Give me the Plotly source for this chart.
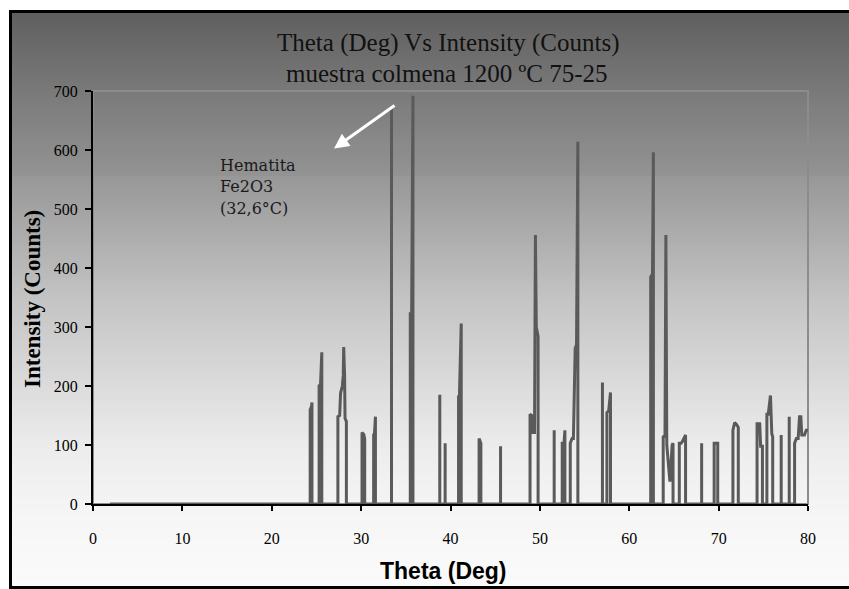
import plotly.graph_objects as go

# ---------------- data ----------------
theta = [
    1.9,
    24.3, 24.3, 24.45, 24.5, 24.5,
    25.3, 25.3, 25.45, 25.6, 25.6,
    27.4, 27.4, 27.6, 27.7, 27.9, 28.0, 28.05, 28.15, 28.2, 28.35, 28.35,
    30.1, 30.1, 30.3, 30.4, 30.4,
    31.4, 31.4, 31.5, 31.6, 31.6,
    33.4, 33.4, 33.4,
    35.5, 35.5, 35.65, 35.8, 35.8,
    38.8, 38.8, 38.8,
    39.4, 39.4, 39.4,
    40.9, 40.9, 41.0, 41.2, 41.2,
    43.2, 43.2, 43.4, 43.4,
    45.6, 45.6, 45.6,
    48.9, 48.9, 49.1, 49.2, 49.4, 49.5, 49.6, 49.8, 49.8,
    51.6, 51.6, 51.6,
    52.5, 52.5, 52.7, 52.8, 52.8,
    53.4, 53.4, 53.6, 53.75, 53.95, 54.1, 54.25, 54.25,
    57.0, 57.0, 57.0,
    57.5, 57.5, 57.7, 57.9, 57.9,
    62.4, 62.4, 62.6, 62.7, 62.7,
    63.8, 63.8, 64.0, 64.1, 64.2, 64.55, 64.8, 64.9, 64.9,
    65.6, 65.6, 65.8, 65.95, 66.3, 66.3,
    68.1, 68.1, 68.1,
    69.5, 69.5, 69.9, 69.9,
    71.6, 71.6, 71.8, 72.0, 72.2, 72.2,
    74.3, 74.3, 74.6, 74.7, 74.9, 74.9,
    75.4, 75.4, 75.55, 75.8, 75.95, 76.05, 76.05,
    77.0, 77.0, 77.0,
    77.9, 77.9, 77.9,
    78.5, 78.5, 78.7, 78.9, 79.05, 79.2, 79.3, 79.6, 79.8, 80.0,
]
counts = [
    0,
    0, 160, 165, 172, 0,
    0, 202, 200, 257, 0,
    0, 148, 150, 188, 200, 218, 266, 218, 145, 140, 0,
    0, 121, 118, 110, 0,
    0, 117, 120, 148, 0,
    0, 671, 0,
    0, 325, 320, 692, 0,
    0, 185, 0,
    0, 103, 0,
    0, 182, 185, 306, 0,
    0, 111, 103, 0,
    0, 98, 0,
    0, 152, 150, 121, 121, 456, 300, 284, 0,
    0, 125, 0,
    0, 103, 103, 125, 0,
    0, 103, 111, 111, 264, 270, 614, 0,
    0, 206, 0,
    0, 155, 158, 189, 0,
    0, 385, 390, 596, 0,
    0, 114, 116, 456, 100, 38, 100, 103, 0,
    0, 103, 103, 106, 117, 0,
    0, 103, 0,
    0, 103, 103, 0,
    0, 125, 138, 135, 130, 0,
    0, 136, 136, 98, 98, 0,
    0, 152, 152, 184, 119, 114, 0,
    0, 117, 0,
    0, 148, 0,
    0, 103, 111, 111, 148, 148, 117, 117, 125, 125,
]
x_ticks = [0, 10, 20, 30, 40, 50, 60, 70, 80]
y_ticks = [0, 100, 200, 300, 400, 500, 600, 700]

title_1 = "Theta (Deg) Vs Intensity (Counts)"
title_2 = "muestra colmena 1200 ºC 75-25"
x_title = "Theta (Deg)"
y_title = "Intensity (Counts)"
note_lines = ["Hematita", "Fe2O3", "(32,6°C)"]

# ---------------- geometry ----------------
W, H = 849, 589
L, R, T, B = 93, 808, 91, 504   # plot area in pixels


def px(xp):
    return (xp - L) / (R - L)


def py(yp):
    return (B - yp) / (B - T)


fig = go.Figure()
fig.add_trace(go.Scatter(
    x=theta, y=counts, mode="lines",
    line=dict(color="#5a5a5a", width=3),
    hoverinfo="skip", showlegend=False,
))

# gradient background built from thin bands
anchors = [(11, 94), (100, 124), (175, 147), (176, 151), (300, 196),
           (450, 237), (520, 246), (588, 251)]


def grey_at(y):
    for (y0, g0), (y1, g1) in zip(anchors[:-1], anchors[1:]):
        if y0 <= y <= y1:
            return g0 + (g1 - g0) * (y - y0) / (y1 - y0)
    return anchors[-1][1]


shapes = []
step = 3
y = 11
while y < 588:
    y2 = min(y + step, 588)
    g = int(round(grey_at((y + y2) / 2)))
    shapes.append(dict(type="rect", xref="paper", yref="paper",
                       x0=px(10), x1=px(860), y0=py(y2), y1=py(y),
                       line=dict(width=0), fillcolor=f"rgb({g},{g},{g})",
                       layer="below"))
    y = y2

# plot-area frame (light grey)
shapes.append(dict(type="rect", xref="paper", yref="paper",
                   x0=0, x1=1, y0=0, y1=1,
                   line=dict(color="#8c8c8c", width=2), layer="below"))
# outer black border (right edge lies outside the picture)
shapes.append(dict(type="rect", xref="paper", yref="paper",
                   x0=px(10.5), x1=px(860), y0=py(587.5), y1=py(11.5),
                   line=dict(color="black", width=3), layer="above"))

serif = "Liberation Serif, Times New Roman, serif"
annotations = [
    dict(text=title_1, xref="paper", yref="paper", x=px(448), y=py(43),
         showarrow=False, font=dict(family=serif, size=25, color="#111"),
         xanchor="center", yanchor="middle"),
    dict(text=title_2, xref="paper", yref="paper", x=px(447), y=py(73),
         showarrow=False, font=dict(family=serif, size=25, color="#111"),
         xanchor="center", yanchor="middle"),
    dict(text="<b>" + x_title + "</b>", xref="paper", yref="paper",
         x=px(443), y=py(571), showarrow=False,
         font=dict(family="Liberation Sans, Arial, sans-serif", size=23,
                   color="black"),
         xanchor="center", yanchor="middle"),
    dict(text="<b>" + y_title + "</b>", xref="paper", yref="paper",
         x=px(32), y=py(299), showarrow=False, textangle=-90,
         font=dict(family=serif, size=23, color="black"),
         xanchor="center", yanchor="middle"),
    # white arrow pointing to the hematite peak
    dict(text="", xref="paper", yref="paper", x=px(334), y=py(148.5),
         ax=62, ay=-44, axref="pixel", ayref="pixel", showarrow=True,
         arrowhead=2, arrowsize=1, arrowwidth=3, arrowcolor="white",
         standoff=0),
]
for i, line in enumerate(note_lines):
    annotations.append(dict(
        text=line, xref="paper", yref="paper", x=px(218), y=py(165 + 21.5 * i),
        showarrow=False, xanchor="left", yanchor="middle",
        font=dict(family="DejaVu Serif, serif", size=16, color="#1a1a1a")))

fig.update_layout(
    width=W, height=H,
    margin=dict(l=L, r=W - R, t=T, b=H - B, pad=0),
    paper_bgcolor="white", plot_bgcolor="rgba(0,0,0,0)",
    shapes=shapes, annotations=annotations, showlegend=False,
    xaxis=dict(range=[0, 80], tickvals=x_ticks, ticktext=[str(v) for v in x_ticks],
               showgrid=False, zeroline=False, showline=True,
               linecolor="black", linewidth=2,
               ticks="outside", ticklen=5, tickwidth=2, tickcolor="black",
               ticklabelstandoff=14,
               tickfont=dict(family=serif, size=16, color="black")),
    yaxis=dict(range=[0, 700], tickvals=y_ticks, ticktext=[str(v) for v in y_ticks],
               showgrid=False, zeroline=False, showline=True,
               linecolor="black", linewidth=2,
               ticks="outside", ticklen=6, tickwidth=2, tickcolor="black",
               ticklabelstandoff=4,
               tickfont=dict(family=serif, size=16, color="black")),
)

fig.write_html("out.html")
